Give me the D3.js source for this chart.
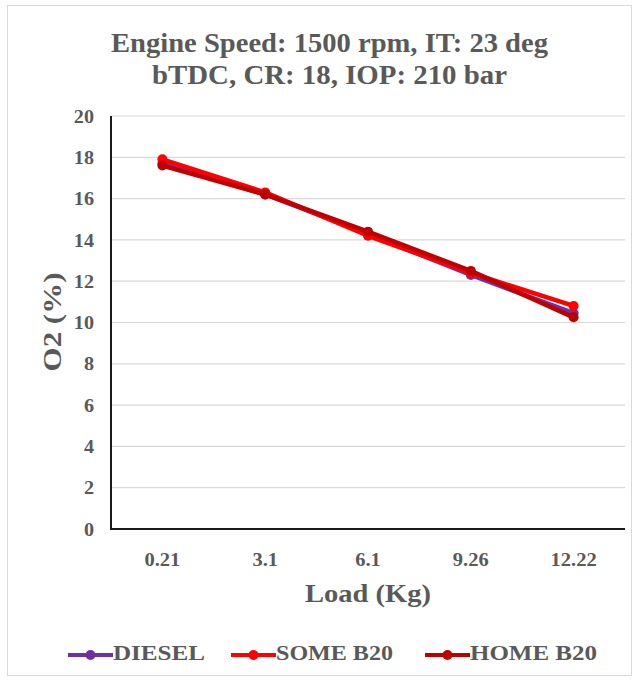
<!DOCTYPE html>
<html><head><meta charset="utf-8">
<script src="https://cdn.jsdelivr.net/npm/d3@7"></script>
<style>body{margin:0;background:#fff}svg{display:block}</style>
</head><body>
<script>
const categories = ["0.21","3.1","6.1","9.26","12.22"];
const diesel  = [17.7, 16.2, 14.3, 12.3, 10.45];
const someB20 = [17.9, 16.3, 14.2, 12.4, 10.8];
const homeB20 = [17.6, 16.2, 14.4, 12.5, 10.25];
const yTicks = [0,2,4,6,8,10,12,14,16,18,20];
const seriesNames = ["DIESEL","SOME B20","HOME B20"];
const seriesColors = ["#7030A0","#FF0000","#C00000"];
const titleLines = ["Engine Speed: 1500 rpm, IT:  23 deg","bTDC, CR: 18, IOP: 210 bar"];

const W=641,H=680;
const FONT="Liberation Serif", GRAY="#595959";
const svg=d3.select("body").append("svg").attr("width",W).attr("height",H);
svg.append("rect").attr("x",7.5).attr("y",5.5).attr("width",624).attr("height",670)
  .attr("fill","#fff").attr("stroke","#d9d9d9");

function styleText(sel,size){
  return sel.attr("font-family",FONT).attr("font-weight","bold").attr("font-size",size).attr("fill",GRAY);
}
function stretch(sel,k){
  sel.each(function(){const l=this.getComputedTextLength();
    d3.select(this).attr("textLength",l*k).attr("lengthAdjust","spacingAndGlyphs");});
}
function fitTo(sel,w){
  sel.attr("textLength",w).attr("lengthAdjust","spacingAndGlyphs");
}

const L=111,R=625,T=116,B=529;
const x=d3.scaleBand().domain(categories).range([L,R]);
const y=d3.scaleLinear().domain([0,20]).range([B,T]);

svg.append("g").selectAll("line").data(yTicks.filter(d=>d>0)).join("line")
  .attr("x1",L).attr("x2",R).attr("y1",d=>y(d)).attr("y2",d=>y(d))
  .attr("stroke","#d9d9d9").attr("stroke-width",1.2);

const ya=svg.append("g").attr("transform",`translate(${L},0)`)
  .call(d3.axisLeft(y).tickValues(yTicks).tickSize(0).tickPadding(17));
ya.select(".domain").remove();
ya.selectAll("text").call(styleText,18).attr("dy","0.34em").call(stretch,1.12);
const xa=svg.append("g").attr("transform",`translate(0,${B})`)
  .call(d3.axisBottom(x).tickSize(0).tickPadding(0));
xa.select(".domain").remove();
xa.selectAll("text").attr("dy",null).attr("y",37).call(styleText,18).call(stretch,1.14);

svg.append("line").attr("x1",L).attr("x2",L).attr("y1",T).attr("y2",B+1).attr("stroke","#1a1a1a").attr("stroke-width",2);
svg.append("line").attr("x1",L-1).attr("x2",R).attr("y1",B).attr("y2",B).attr("stroke","#1a1a1a").attr("stroke-width",2);

const data=[diesel,someB20,homeB20];
const cx=(d,i)=>x(categories[i])+x.bandwidth()/2;
const line=d3.line().x(cx).y(d=>y(d));
data.forEach((s,k)=>{
  svg.append("path").datum(s).attr("d",line).attr("fill","none")
    .attr("stroke",seriesColors[k]).attr("stroke-width",4.5).attr("stroke-linejoin","round");
  svg.append("g").selectAll("circle").data(s).join("circle")
    .attr("cx",cx).attr("cy",d=>y(d)).attr("r",5).attr("fill",seriesColors[k]);
});

const titleW=[437,355];
titleLines.forEach((t,i)=>{
  svg.append("text").attr("x",329.5).attr("y",52+i*32).attr("text-anchor","middle")
    .call(styleText,28).text(t).call(fitTo,titleW[i]);
});

svg.append("text").attr("x",368).attr("y",602).attr("text-anchor","middle")
  .call(styleText,26).text("Load (Kg)").call(fitTo,126);
svg.append("text").attr("transform","translate(61,322) rotate(-90)").attr("text-anchor","middle")
  .call(styleText,26).text("O2 (%)").call(fitTo,99);

const legX=[68,231,425], legW=[92,117,127];
seriesNames.forEach((n,k)=>{
  const g=svg.append("g").attr("transform",`translate(${legX[k]},655)`);
  g.append("line").attr("x1",0).attr("x2",45).attr("y1",0).attr("y2",0).attr("stroke",seriesColors[k]).attr("stroke-width",4);
  g.append("circle").attr("cx",22.5).attr("cy",0).attr("r",5).attr("fill",seriesColors[k]);
  g.append("text").attr("x",45).attr("y",4.5).call(styleText,20).text(n).call(fitTo,legW[k]);
});
</script>
</body></html>
